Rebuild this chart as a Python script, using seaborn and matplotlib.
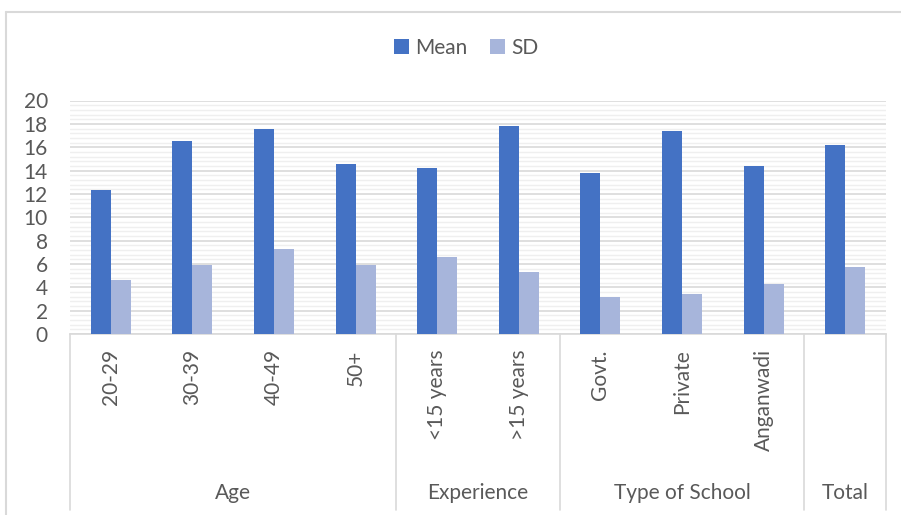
import matplotlib
matplotlib.use("Agg")
import matplotlib.pyplot as plt
import matplotlib.transforms as mtransforms
from matplotlib.lines import Line2D
from matplotlib.patches import Patch
import numpy as np
import pandas as pd
import seaborn as sns

# Data
categories = ["20-29", "30-39", "40-49", "50+", "<15 years", ">15 years",
              "Govt.", "Private", "Anganwadi", ""]
groups = ["Age", "Experience", "Type of School", "Total"]
group_sizes = [4, 2, 3, 1]
mean_values = [12.3, 16.5, 17.6, 14.6, 14.2, 17.8, 13.8, 17.4, 14.4, 16.2]
sd_values = [4.6, 5.9, 7.3, 5.9, 6.6, 5.3, 3.2, 3.4, 4.3, 5.7]
series_names = ["Mean", "SD"]

slots = [f"c{i}" for i in range(len(categories))]
df = pd.DataFrame({
    "slot": slots * 2,
    "value": mean_values + sd_values,
    "stat": [series_names[0]] * len(slots) + [series_names[1]] * len(slots),
})

sns.set_theme(style="white")
plt.rcParams["font.family"] = ["Lato", "DejaVu Sans"]
text_color = "#595959"
colors = ["#4472C4", "#A7B5DB"]

fig = plt.figure(figsize=(9.01, 5.15), dpi=100)
W, H = 901, 515
left_px, right_px, top_px, bottom_px = 70, 886, 100.5, 334
ax = fig.add_axes([left_px / W, 1 - bottom_px / H,
                   (right_px - left_px) / W, (bottom_px - top_px) / H])

sns.barplot(data=df, x="slot", y="value", hue="stat", order=slots,
            hue_order=series_names, palette=colors, saturation=1,
            width=0.49, gap=0, edgecolor="none", linewidth=0, legend=False,
            ax=ax, zorder=3)

ax.set_xlim(-0.5, len(slots) - 0.5)
ax.set_ylim(0, 20)
ax.set_yticks(np.arange(0, 21, 2))
ax.set_yticks(np.arange(0, 20.01, 0.4), minor=True)
ax.grid(axis="y", which="minor", color="#EFEFEF", linewidth=1.0, zorder=0)
ax.grid(axis="y", which="major", color="#D9D9D9", linewidth=1.2, zorder=1)
ax.set_axisbelow(True)
for s in ["top", "right", "left"]:
    ax.spines[s].set_visible(False)
ax.spines["bottom"].set_color("#D9D9D9")
ax.spines["bottom"].set_linewidth(1.2)

ax.tick_params(axis="y", which="both", length=0, pad=16, labelsize=15,
               labelcolor=text_color)
ax.set_xticks(range(len(slots)))
ax.set_xticklabels(categories, rotation=90, va="top", ha="center")
ax.tick_params(axis="x", length=0, pad=11, labelsize=15, labelcolor=text_color)
ax.set_xlabel("")
ax.set_ylabel("")

# Multi-level category axis: separators and group labels
blend = mtransforms.blended_transform_factory(ax.transData, ax.transAxes)
axis_h = bottom_px - top_px
line_bottom = -(510 - bottom_px) / axis_h
label_y = -(493 - bottom_px) / axis_h
edges = np.concatenate([[0], np.cumsum(group_sizes)]) - 0.5
for e in edges:
    ax.plot([e, e], [0, line_bottom], transform=blend, color="#D9D9D9",
            linewidth=1.2, clip_on=False, zorder=1)
for g, a, b in zip(groups, edges[:-1], edges[1:]):
    ax.text((a + b) / 2, label_y, g, transform=blend, ha="center",
            va="center", fontsize=15, color=text_color)

# Legend
handles = [Patch(facecolor=c, edgecolor="none") for c in colors]
fig.legend(handles, series_names, loc="center",
           bbox_to_anchor=(466 / W, 1 - 48 / H),
           ncol=2, frameon=False, fontsize=15, handlelength=0.7,
           handleheight=0.7, handletextpad=0.3, columnspacing=1.1,
           labelcolor=text_color)

# Chart area border
fig.add_artist(Line2D([6 / W, 1], [1 - 12 / H, 1 - 12 / H], color="#D9D9D9",
                      linewidth=1.5, transform=fig.transFigure))
fig.add_artist(Line2D([6 / W, 6 / W], [0, 1 - 12 / H], color="#D9D9D9",
                      linewidth=1.5, transform=fig.transFigure))

fig.savefig("out.png", dpi=100)
